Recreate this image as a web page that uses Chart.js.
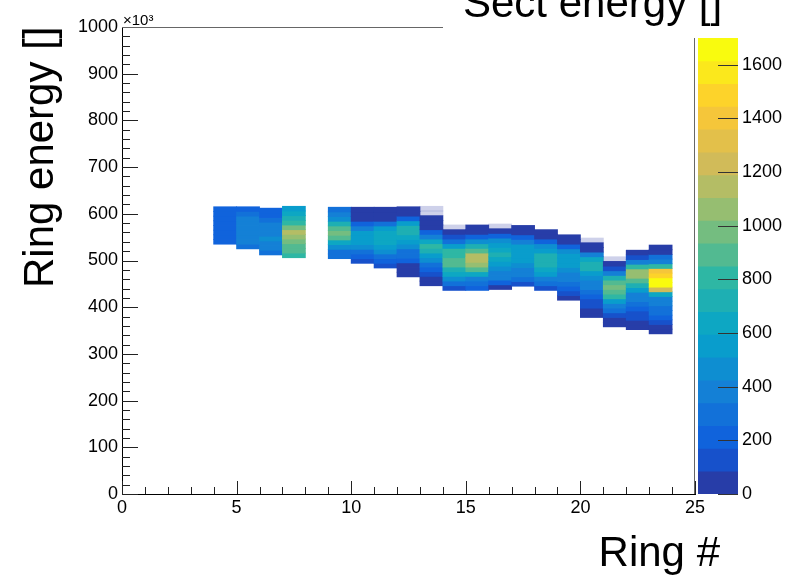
<!DOCTYPE html>
<html>
<head>
<meta charset="utf-8">
<title>Ring energy vs ring #</title>
<script src="https://cdn.jsdelivr.net/npm/chart.js@4.4.1/dist/chart.umd.min.js"></script>
<style>
  body { margin: 0; background: #fff; }
  #graph-container { position: relative; width: 796px; height: 576px; }
  canvas { position: absolute; left: 0; top: 0; }
</style>
</head>
<body>
<div id="graph-container">
  <canvas id="graph" width="796" height="576"></canvas>
  <canvas id="palette" width="796" height="576"></canvas>
</div>
<script>
// ring # bins holding entries (ring 8 is empty), bin width 1
const ringBins = [4, 5, 6, 7, 9, 10, 11, 12, 13, 14, 15, 16, 17, 18, 19, 20, 21, 22, 23];
// lower edge of the first ring energy bin of each column (x10^3)
const ringEnergyLow = [535, 525, 512, 506, 504, 494, 484, 465, 446, 436, 436, 438, 445, 436, 415, 378, 358, 352, 343];
const ringEnergyStep = 10;
// sect energy per ring energy bin, bottom to top
const sectEnergy = [
  [230, 240, 250, 230, 250, 220, 230, 200],
  [330, 360, 370, 370, 360, 350, 340, 300, 240],
  [330, 400, 420, 430, 420, 410, 370, 300, 230, 200],
  [830, 850, 900, 980, 1100, 1150, 980, 830, 740, 620, 540],
  [290, 330, 470, 640, 880, 950, 880, 680, 480, 360, 310],
  [120, 220, 330, 470, 560, 580, 520, 360, 220, 70, 60, 50],
  [110, 190, 330, 470, 540, 600, 620, 610, 540, 330, 80, 60, 50],
  [60, 70, 80, 180, 260, 330, 430, 540, 620, 680, 700, 520, 180, 70, 60],
  [60, 70, 90, 190, 300, 430, 560, 680, 780, 620, 400, 210, 70, 60, 50, 5, 5],
  [140, 270, 470, 620, 740, 930, 930, 820, 770, 520, 320, 110, 60, 5],
  [200, 270, 380, 640, 880, 1100, 1170, 1150, 930, 700, 470, 250, 70, 60],
  [80, 250, 350, 380, 440, 560, 640, 680, 660, 560, 440, 240, 70, 8],
  [140, 300, 340, 400, 480, 540, 570, 560, 520, 370, 220, 80, 60],
  [90, 300, 360, 520, 600, 680, 700, 680, 560, 440, 220, 70, 60],
  [60, 90, 220, 300, 340, 400, 460, 540, 570, 560, 480, 250, 70, 60],
  [70, 80, 90, 150, 250, 320, 340, 370, 440, 560, 680, 740, 620, 340, 80, 60, 5],
  [70, 80, 120, 260, 350, 520, 780, 930, 980, 910, 720, 420, 100, 60, 5],
  [70, 80, 90, 100, 250, 300, 340, 380, 520, 740, 930, 1040, 1060, 820, 420, 100, 70],
  [70, 80, 150, 250, 300, 320, 340, 400, 620, 1250, 1680, 1620, 1500, 1420, 830, 370, 270, 80, 70]
];

const zMax = 1700;
const nContours = 20;

// kBird palette stops
const birdStops = [0, 0.125, 0.25, 0.375, 0.5, 0.625, 0.75, 0.875, 1];
const birdR = [0.2082, 0.0592, 0.0780, 0.0232, 0.1802, 0.5301, 0.8186, 0.9956, 0.9764];
const birdG = [0.1664, 0.3599, 0.5041, 0.6419, 0.7178, 0.7492, 0.7328, 0.7862, 0.9832];
const birdB = [0.5293, 0.8684, 0.8385, 0.7914, 0.6425, 0.4662, 0.3499, 0.1968, 0.0539];

function birdColor(t) {
  let i = 0
  while (i < birdStops.length - 2 && t > birdStops[i + 1]) i++
  const f = (t - birdStops[i]) / (birdStops[i + 1] - birdStops[i])
  const c = arr => Math.round(255 * (arr[i] + (arr[i + 1] - arr[i]) * f))
  return 'rgb(' + c(birdR) + ',' + c(birdG) + ',' + c(birdB) + ')'
}

function contourColor(v) {
  if (v < 20) return 'rgba(60,70,170,0.25)' // very sparse bins come out as faint lines
  let band = Math.floor(0.01 + v * nContours / zMax)
  band = Math.max(0, Math.min(nContours - 1, band))
  const idx = Math.floor((band + 0.99) * 255 / nContours)
  return birdColor(idx / 254)
}

let cells = []
ringBins.forEach((ring, i) => {
  sectEnergy[i].forEach((v, k) => {
    let lo = ringEnergyLow[i] + k * ringEnergyStep
    cells.push({ x: ring + 0.5, y: [lo, lo + ringEnergyStep], v: v })
  })
})

Chart.defaults.font.family = '"Liberation Sans", Arial, Helvetica, sans-serif';
Chart.defaults.color = '#000';

const axisDeco = {
  id: 'axisDeco',
  afterDraw(chart) {
    const { ctx, chartArea: a, scales: { x, y } } = chart
    ctx.save()
    ctx.strokeStyle = '#222'
    ctx.lineWidth = 1
    ctx.beginPath()
    for (let v = 0; v <= 25; v++) {
      const px = Math.round(x.getPixelForValue(v)) + 0.5
      ctx.moveTo(px, a.bottom)
      ctx.lineTo(px, a.bottom - (v % 5 === 0 ? 13 : 7))
    }
    for (let v = 0; v <= 1000; v += 20) {
      const py = Math.round(y.getPixelForValue(v)) + 0.5
      ctx.moveTo(a.left, py)
      ctx.lineTo(a.left + (v % 100 === 0 ? 16 : 8), py)
    }
    ctx.stroke()
    // frame top and right, partly hidden by the z title box
    ctx.strokeStyle = '#666'
    ctx.beginPath()
    ctx.moveTo(a.left, Math.round(a.top) + 0.5)
    ctx.lineTo(443, Math.round(a.top) + 0.5)
    ctx.moveTo(Math.round(a.right) - 0.5, 38)
    ctx.lineTo(Math.round(a.right) - 0.5, a.bottom)
    ctx.stroke()

    ctx.fillStyle = '#000'
    ctx.font = '15px "Liberation Sans", Arial, sans-serif'
    ctx.textAlign = 'left'
    ctx.textBaseline = 'alphabetic'
    ctx.fillText('\u00d710\u00b3', a.left + 1, 25)

    ctx.font = '42px "Liberation Sans", Arial, sans-serif'
    ctx.fillText('Sect energy []', 463, 17)
    ctx.textAlign = 'right'
    ctx.fillText('Ring #', 720, 566)

    ctx.translate(53, 288)
    ctx.rotate(-Math.PI / 2)
    ctx.textAlign = 'left'
    ctx.fillText('Ring energy []', 0, 0)
    ctx.restore()
  }
}

new Chart(document.getElementById('graph'), {
  type: 'bar',
  data: {
    datasets: [{
      data: cells,
      backgroundColor: ctx => contourColor(ctx.raw ? ctx.raw.v : 0),
      borderWidth: 0,
      barPercentage: 1,
      categoryPercentage: 1,
      inflateAmount: 0.4
    }]
  },
  options: {
    responsive: false,
    animation: false,
    events: [],
    layout: { padding: { left: 0, top: 27, right: 101, bottom: 0 } },
    plugins: { legend: { display: false }, tooltip: { enabled: false } },
    scales: {
      x: {
        type: 'linear', min: 0, max: 25, offset: false,
        ticks: { stepSize: 5, font: { size: 18 }, padding: 3, maxRotation: 0 },
        grid: { drawOnChartArea: false, drawTicks: false, offset: false },
        border: { color: '#000' },
        afterFit: s => { s.height = 82 }
      },
      y: {
        type: 'linear', min: 0, max: 1000,
        ticks: { stepSize: 100, font: { size: 18 }, padding: 4, callback: v => v },
        grid: { drawOnChartArea: false, drawTicks: false },
        border: { color: '#000' },
        afterFit: s => { s.width = 122 }
      }
    }
  },
  plugins: [axisDeco]
})

// colour palette axis
let bands = []
for (let b = 0; b < nContours; b++) {
  bands.push({ x: 0, y: [b * zMax / nContours, (b + 1) * zMax / nContours], v: (b + 0.5) * zMax / nContours })
}

const paletteTicks = {
  id: 'paletteTicks',
  afterDraw(chart) {
    const { ctx, chartArea: a, scales: { y } } = chart
    ctx.save()
    ctx.strokeStyle = '#333'
    ctx.beginPath()
    for (let v = 0; v <= 1600; v += 200) {
      const py = Math.round(y.getPixelForValue(v)) + 0.5
      ctx.moveTo(a.right, py)
      ctx.lineTo(a.right - 20, py)
    }
    ctx.stroke()
    ctx.restore()
  }
}

new Chart(document.getElementById('palette'), {
  type: 'bar',
  data: {
    datasets: [{
      data: bands,
      backgroundColor: ctx => contourColor(ctx.raw ? ctx.raw.v : 0),
      borderWidth: 0,
      barThickness: 40,
      inflateAmount: 0.4
    }]
  },
  options: {
    responsive: false,
    animation: false,
    events: [],
    layout: { padding: { left: 698, top: 38, right: 0, bottom: 82 } },
    plugins: { legend: { display: false }, tooltip: { enabled: false } },
    scales: {
      x: { type: 'linear', display: false, min: -0.5, max: 0.5, offset: false },
      y: {
        position: 'right', min: 0, max: zMax,
        ticks: { stepSize: 200, includeBounds: false, font: { size: 18 }, padding: 4, callback: v => v },
        grid: { drawOnChartArea: false, drawTicks: false },
        border: { display: false },
        afterFit: s => { s.width = 58 }
      }
    }
  },
  plugins: [paletteTicks]
})
</script>
</body>
</html>
